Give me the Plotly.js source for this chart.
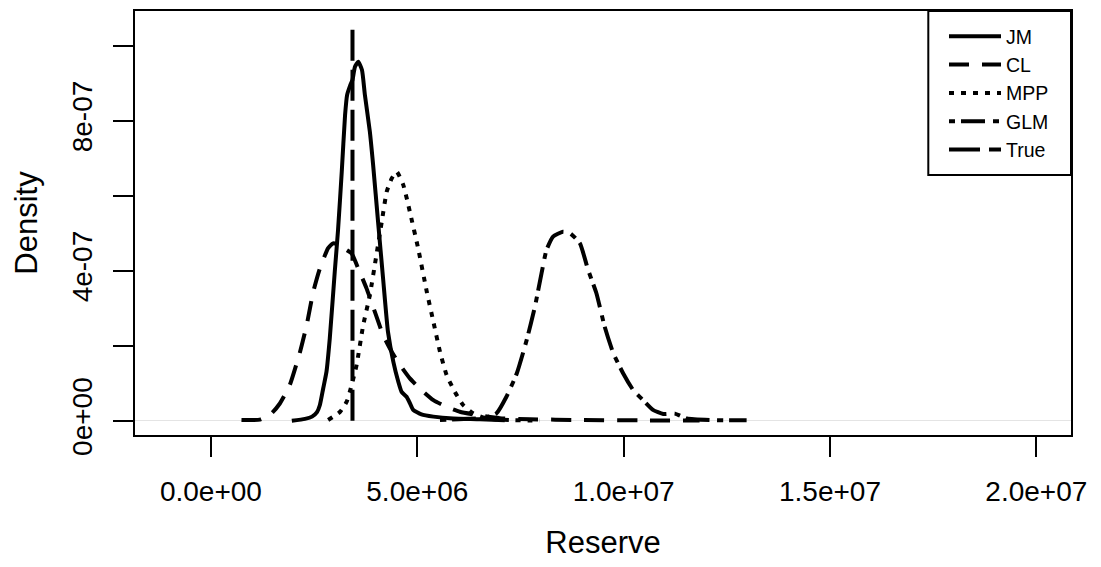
<!DOCTYPE html>
<html>
<head>
<meta charset="utf-8">
<script src="https://cdn.plot.ly/plotly-3.0.1.min.js"></script>
<style>
html,body{margin:0;padding:0;background:#fff;}
#chart{width:1101px;height:567px;}
</style>
</head>
<body>
<div id="chart"></div>
<script>
// ---- data ----
const seriesNames = ["JM", "CL", "MPP", "GLM", "True"];

const jmReserve = [1.96e6, 2.28e6, 2.45e6, 2.57e6, 2.64e6, 2.72e6, 2.80e6, 2.88e6, 3.00e6, 3.08e6, 3.17e6, 3.25e6, 3.30e6, 3.37e6, 3.43e6, 3.49e6, 3.57e6, 3.66e6, 3.73e6, 3.85e6, 3.93e6, 4.05e6, 4.17e6, 4.29e6, 4.42e6, 4.54e6, 4.62e6, 4.74e6, 4.82e6, 4.90e6, 5.10e6, 5.39e6, 5.87e6, 6.52e6, 7.12e6];
const jmDensity = [0.00e-7, 0.05e-7, 0.11e-7, 0.23e-7, 0.42e-7, 0.86e-7, 1.31e-7, 2.20e-7, 3.97e-7, 5.09e-7, 6.64e-7, 8.15e-7, 8.69e-7, 8.93e-7, 9.09e-7, 9.44e-7, 9.57e-7, 9.35e-7, 8.69e-7, 7.71e-7, 6.82e-7, 5.30e-7, 3.81e-7, 2.37e-7, 1.57e-7, 1.04e-7, 0.77e-7, 0.64e-7, 0.47e-7, 0.29e-7, 0.17e-7, 0.11e-7, 0.06e-7, 0.04e-7, 0.01e-7];

const clReserve = [0.74e6, 1.19e6, 1.47e6, 1.67e6, 1.91e6, 2.16e6, 2.32e6, 2.48e6, 2.64e6, 2.84e6, 2.96e6, 3.13e6, 3.29e6, 3.41e6, 3.57e6, 3.77e6, 3.97e6, 4.17e6, 4.38e6, 4.58e6, 4.82e6, 5.06e6, 5.39e6, 5.71e6, 6.03e6, 6.52e6, 7.00e6, 7.73e6, 8.94e6, 10.39e6, 11.84e6];
const clDensity = [0.02e-7, 0.03e-7, 0.20e-7, 0.46e-7, 0.95e-7, 1.84e-7, 2.55e-7, 3.44e-7, 4.06e-7, 4.60e-7, 4.73e-7, 4.69e-7, 4.55e-7, 4.46e-7, 4.06e-7, 3.53e-7, 2.91e-7, 2.29e-7, 1.84e-7, 1.49e-7, 1.13e-7, 0.86e-7, 0.55e-7, 0.37e-7, 0.24e-7, 0.14e-7, 0.07e-7, 0.04e-7, 0.02e-7, 0.01e-7, 0.005e-7];

const mppReserve = [2.84e6, 3.13e6, 3.29e6, 3.39e6, 3.53e6, 3.69e6, 3.85e6, 4.01e6, 4.14e6, 4.26e6, 4.38e6, 4.50e6, 4.66e6, 4.82e6, 5.02e6, 5.23e6, 5.39e6, 5.55e6, 5.71e6, 5.91e6, 6.11e6, 6.35e6, 6.68e6, 7.24e6, 7.97e6];
const mppDensity = [0.02e-7, 0.24e-7, 0.51e-7, 0.87e-7, 1.49e-7, 2.55e-7, 3.35e-7, 4.42e-7, 5.31e-7, 6.11e-7, 6.46e-7, 6.64e-7, 6.29e-7, 5.57e-7, 4.60e-7, 3.44e-7, 2.64e-7, 1.84e-7, 1.22e-7, 0.77e-7, 0.42e-7, 0.20e-7, 0.06e-7, 0.02e-7, 0.005e-7];

const glmReserve = [5.55e6, 6.27e6, 6.68e6, 6.92e6, 7.16e6, 7.41e6, 7.65e6, 7.85e6, 8.01e6, 8.13e6, 8.29e6, 8.53e6, 8.70e6, 8.94e6, 9.14e6, 9.34e6, 9.54e6, 9.75e6, 9.99e6, 10.23e6, 10.47e6, 10.71e6, 10.96e6, 11.24e6, 11.53e6, 12.09e6, 12.98e6];
const glmDensity = [0.02e-7, 0.05e-7, 0.09e-7, 0.20e-7, 0.64e-7, 1.26e-7, 2.15e-7, 3.04e-7, 3.93e-7, 4.55e-7, 4.91e-7, 5.04e-7, 5.00e-7, 4.73e-7, 4.02e-7, 3.40e-7, 2.51e-7, 1.80e-7, 1.26e-7, 0.82e-7, 0.55e-7, 0.29e-7, 0.18e-7, 0.19e-7, 0.06e-7, 0.02e-7, 0.01e-7];

const trueReserve = [3.43e6, 3.43e6];
const trueDensity = [0, 1.065e-6];

const xTickVals = [0, 5e6, 1e7, 1.5e7, 2e7];
const xTickText = ["0.0e+00", "5.0e+06", "1.0e+07", "1.5e+07", "2.0e+07"];
const yTickVals = [0, 2e-7, 4e-7, 6e-7, 8e-7, 1e-6];
const yTickText = ["0e+00", "", "4e-07", "", "8e-07", ""];

// ---- styling ----
const FONT = "Liberation Sans, Arial, Helvetica, sans-serif";
const LW = 4;
function mk(name, x, y, dash, smooth) {
  return {
    type: "scatter", mode: "lines", name: name, x: x, y: y,
    line: smooth ? {color: "#000", width: LW, dash: dash, shape: "spline", smoothing: 0.5}
                 : {color: "#000", width: LW, dash: dash},
    hoverinfo: "skip"
  };
}
const traces = [
  mk(seriesNames[0], jmReserve, jmDensity, "solid", true),
  mk(seriesNames[1], clReserve, clDensity, "20px,13px", true),
  mk(seriesNames[2], mppReserve, mppDensity, "5px,7px", true),
  mk(seriesNames[3], glmReserve, glmDensity, "6px,6px,24px,8px", true),
  mk(seriesNames[4], trueReserve, trueDensity, "31px,9px", false)
];

const layout = {
  width: 1101, height: 567,
  margin: {l: 135, r: 30, t: 11, b: 132, pad: 0},
  paper_bgcolor: "#fff", plot_bgcolor: "#fff",
  font: {family: FONT, color: "#000", size: 28},
  showlegend: true,
  legend: {
    x: (944 - 135) / 936, xanchor: "left",
    y: (435 - 17) / 424, yanchor: "top",
    bgcolor: "rgba(0,0,0,0)", borderwidth: 0,
    font: {family: FONT, size: 19.5, color: "#000"},
    itemwidth: 52, tracegroupgap: 0
  },
  xaxis: {
    range: [-1.84e6, 2.084e7],
    tickmode: "array", tickvals: xTickVals, ticktext: xTickText,
    ticks: "outside", ticklen: 20, tickwidth: 2, tickcolor: "#000",
    showline: true, linecolor: "#000", linewidth: 2, mirror: true,
    showgrid: false, zeroline: false,
    tickfont: {family: FONT, size: 28, color: "#000"},
    ticklabelstandoff: 10,
    title: {text: "Reserve", font: {family: FONT, size: 31, color: "#000"}, standoff: 26}
  },
  yaxis: {
    range: [-3.8e-8, 1.0925e-6],
    tickmode: "array", tickvals: yTickVals, ticktext: yTickText,
    tickangle: -90,
    ticks: "outside", ticklen: 20, tickwidth: 2, tickcolor: "#000",
    showline: true, linecolor: "#000", linewidth: 2, mirror: true,
    showgrid: false,
    zeroline: true, zerolinecolor: "#e4e4e4", zerolinewidth: 1,
    tickfont: {family: FONT, size: 28, color: "#000"},
    ticklabelstandoff: 10,
    title: {text: "Density", font: {family: FONT, size: 31, color: "#000"}, standoff: 20}
  },
  shapes: [{
    type: "rect", xref: "paper", yref: "paper",
    x0: (928.3 - 135) / 936, x1: 1, y0: (435 - 175) / 424, y1: 1,
    line: {color: "#000", width: 2}, fillcolor: "rgba(0,0,0,0)", layer: "above"
  }]
};

Plotly.newPlot("chart", traces, layout, {staticPlot: true, displayModeBar: false});
</script>
</body>
</html>
